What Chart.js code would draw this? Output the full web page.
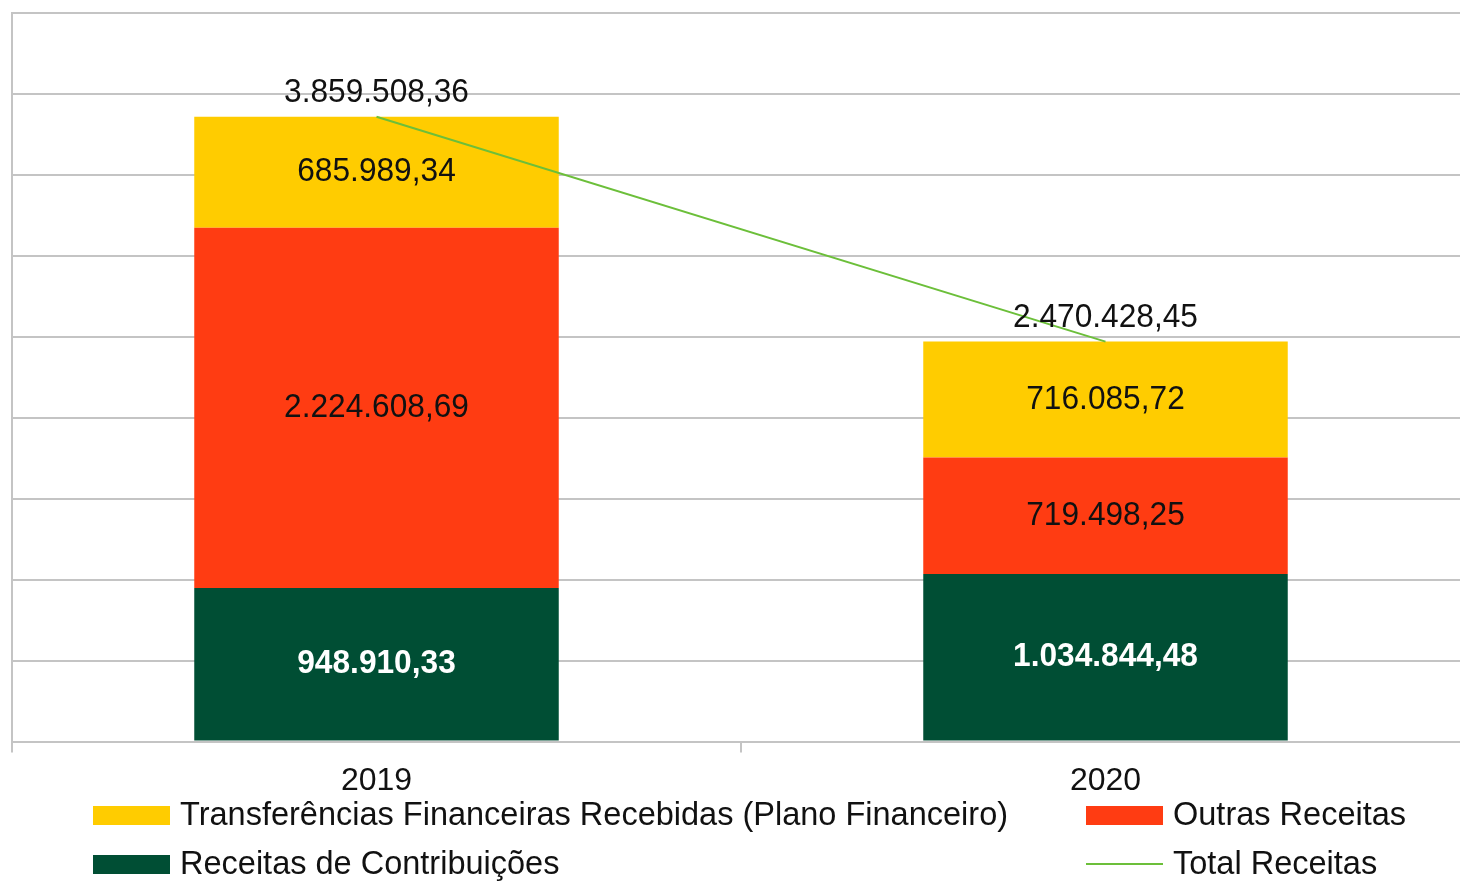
<!DOCTYPE html>
<html>
<head>
<meta charset="utf-8">
<title>Receitas 2019 x 2020</title>
<script src="https://cdn.jsdelivr.net/npm/chart.js@4.4.0/dist/chart.umd.min.js"></script>
<style>
  html, body { margin: 0; padding: 0; background: #fff; overflow: hidden; }
  canvas { display: block; }
</style>
</head>
<body>
<canvas id="receitas" width="1470" height="882"></canvas>
<script>
// chart values
const years = ["2019", "2020"]
const contribuicoes = [948910.33, 1034844.48]
const outrasReceitas = [2224608.69, 719498.25]
const transferencias = [685989.34, 716085.72]
const totalReceitas = [3859508.36, 2470428.45]
const seriesNames = [
  "Receitas de Contribuições",
  "Outras Receitas",
  "Transferências Financeiras Recebidas (Plano Financeiro)",
  "Total Receitas"
]
const yMax = 4500000
const yStep = 500000

const FONT = '"Liberation Sans", Arial, sans-serif'
const GRID = "#c4c4c4"

/**
 * formats a number the brazilian way: 1.234.567,89
 */
const formatBR = (value) => {
  const parts = value.toFixed(2).split(".")
  const whole = parts[0].replace(/\B(?=(\d{3})+(?!\d))/g, ".")
  return whole + "," + parts[1]
}

// the numbers in the source picture are a bit narrow
const drawNarrowText = (ctx, text, x, y, squeeze) => {
  ctx.save()
  ctx.translate(x, y)
  ctx.scale(squeeze, 1)
  ctx.fillText(text, 0, 0)
  ctx.restore()
}

// value labels inside the bars and above the total line
const valueLabels = {
  id: "valueLabels",
  afterDatasetsDraw(chart) {
    const ctx = chart.ctx
    ctx.save()
    ctx.textAlign = "center"
    ctx.textBaseline = "middle"
    chart.data.datasets.forEach((ds, i) => {
      const meta = chart.getDatasetMeta(i)
      meta.data.forEach((el, j) => {
        const value = ds.data[j]
        if (ds.type === "line") {
          ctx.font = "33px " + FONT
          ctx.fillStyle = "#111"
          drawNarrowText(ctx, formatBR(value), el.x, el.y - 24, 0.96)
        } else {
          const { x, y, base } = el.getProps(["x", "y", "base"], true)
          ctx.font = (ds.labelBold ? "bold " : "") + "33px " + FONT
          ctx.fillStyle = ds.labelColor
          drawNarrowText(ctx, formatBR(value), x, (y + base) / 2, 0.96)
        }
      })
    })
    ctx.restore()
  }
}

// two column legend under the axis
const gridLegend = {
  id: "gridLegend",
  afterDraw(chart) {
    const ctx = chart.ctx
    const colX = [93, 1086]
    const rowY = [815, 864]
    // dataset index -> [column, row]
    const slots = { 2: [0, 0], 1: [1, 0], 0: [0, 1], 3: [1, 1] }
    ctx.save()
    ctx.textAlign = "left"
    ctx.textBaseline = "middle"
    ctx.font = "33px " + FONT
    chart.data.datasets.forEach((ds, i) => {
      const [c, r] = slots[i]
      const x = colX[c]
      const y = rowY[r]
      if (ds.type === "line") {
        ctx.strokeStyle = ds.borderColor
        ctx.lineWidth = 2
        ctx.beginPath()
        ctx.moveTo(x, y)
        ctx.lineTo(x + 77, y)
        ctx.stroke()
      } else {
        ctx.fillStyle = ds.backgroundColor
        ctx.fillRect(x, y - 9, 77, 19)
      }
      ctx.fillStyle = "#111"
      drawNarrowText(ctx, ds.label, x + 87, y + 1, 0.985)
    })
    ctx.restore()
  }
}

const canvas = document.getElementById("receitas")

new Chart(canvas.getContext("2d"), {
  data: {
    labels: years,
    datasets: [
      {
        type: "bar",
        label: seriesNames[0],
        data: contribuicoes,
        backgroundColor: "#004e34",
        labelColor: "#ffffff",
        labelBold: true,
        stack: "receitas",
        order: 1
      },
      {
        type: "bar",
        label: seriesNames[1],
        data: outrasReceitas,
        backgroundColor: "#ff3c12",
        labelColor: "#111",
        stack: "receitas",
        order: 1
      },
      {
        type: "bar",
        label: seriesNames[2],
        data: transferencias,
        backgroundColor: "#ffcc00",
        labelColor: "#111",
        stack: "receitas",
        order: 1
      },
      {
        type: "line",
        label: seriesNames[3],
        data: totalReceitas,
        borderColor: "#6cbf3a",
        borderWidth: 2,
        pointRadius: 0,
        stack: "total",
        order: 0
      }
    ]
  },
  options: {
    responsive: false,
    animation: false,
    layout: {
      padding: { left: 12, top: 13, right: 0, bottom: 73 }
    },
    datasets: {
      bar: {
        categoryPercentage: 1,
        barPercentage: 0.5
      }
    },
    scales: {
      x: {
        stacked: true,
        offset: true,
        grid: {
          offset: true,
          drawOnChartArea: false,
          drawTicks: true,
          tickLength: 11,
          color: GRID,
          lineWidth: 2
        },
        border: { color: GRID, width: 2 },
        ticks: {
          color: "#111",
          padding: 9,
          font: { family: FONT, size: 32 }
        }
      },
      y: {
        stacked: true,
        min: 0,
        max: yMax,
        ticks: { display: false, stepSize: yStep },
        grid: { color: GRID, lineWidth: 2, drawTicks: false },
        border: { color: GRID, width: 2 }
      }
    },
    plugins: {
      legend: { display: false },
      tooltip: { enabled: false }
    }
  },
  plugins: [valueLabels, gridLegend]
})
</script>
</body>
</html>
